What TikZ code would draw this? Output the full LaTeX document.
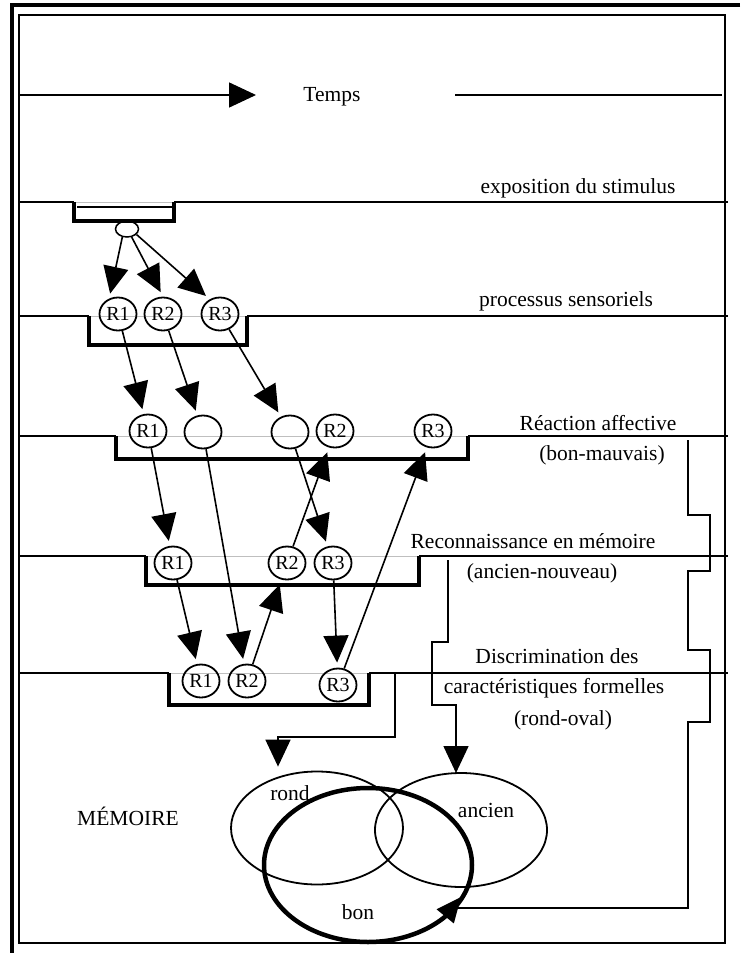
\documentclass[tikz,border=0pt]{standalone}
\usepackage{fontspec}
\setmainfont{Liberation Serif}
\usetikzlibrary{arrows.meta,shapes.geometric}
\begin{document}
\begin{tikzpicture}[x=1pt, y=-1pt, font=\fontsize{21.5}{25}\selectfont, line join=miter, >={Triangle[length=27pt,width=25pt]}]
	\tikzset{r/.style={draw,ellipse,line width=1.8pt,minimum width=37pt,minimum height=33pt,inner sep=0pt,font=\fontsize{20}{22}\selectfont},
		lvl/.style={line width=1.5pt},
		cuve/.style={line width=4pt},
		fl/.style={->,line width=1.6pt,shorten >=5pt},
		mem/.style={draw,ellipse,line width=1.8pt}}
	\useasboundingbox (0,0) rectangle (740,953);
	% cadre
	\draw[line width=2.5pt] (19,15) rectangle (725,943);
	\draw[line width=3.5pt] (740,5) -- (12,5) -- (12,953);
	% temps
	\coordinate (t0) at (19,95); \coordinate (t1) at (256,95);
	\coordinate (t2) at (455,95); \coordinate (t3) at (722,95);
	\node (temps) at (332,97) {Temps};
	\draw[lvl,->] (t0) -- (t1);
	\draw[lvl] (t2) -- (t3);
	% niveaux
	\foreach \y/\a/\b/\c in {202/74/174/221, 316/89/247/345, 436/116/468/459, 556/146/419/585, 673/169/369/705}{
		\draw[gray!50,line width=0.8pt] (\a,\y) -- (\b,\y);
		\draw[lvl] (19,\y) -- (\a,\y) (\b,\y) -- (728,\y);
		\draw[cuve] (\a,\y) -- (\a,\c) -- (\b,\c) -- (\b,\y);
	}
	\draw[line width=1.2pt] (77,207) -- (172,207);
	\path (578,188) node (expo) {exposition du stimulus}
		(566,301) node (sens) {processus sensoriels}
		(598,423) node (aff) {Réaction affective}
		(602,455) node (aff2) {(bon-mauvais)}
		(533,541) node (rec) {Reconnaissance en mémoire}
		(542,573) node (rec2) {(ancien-nouveau)}
		(557,656) node (dis) {Discrimination des}
		(554,688) node (dis2) {caractéristiques formelles}
		(563,720) node (dis3) {(rond-oval)};
	% stimulus et reponses
	\node[draw,ellipse,line width=1.5pt,minimum width=23pt,minimum height=16pt,inner sep=0pt] (s0) at (127,229) {};
	\path (118,314) node[r] (sR1) {R1} (163,314) node[r] (sR2) {R2} (220,314) node[r] (sR3) {R3};
	\path (148,431) node[r] (aR1) {R1} (203,432) node[r] (aV1) {} (290,432) node[r] (aV2) {}
		(335,431) node[r] (aR2) {R2} (433,431) node[r] (aR3) {R3};
	\path (173,563) node[r] (cR1) {R1} (287,563) node[r] (cR2) {R2} (333,563) node[r] (cR3) {R3};
	\path (201,681) node[r] (dR1) {R1} (247,681) node[r] (dR2) {R2} (338,685) node[r] (dR3) {R3};
	\foreach \x/\y in {
		s0.240/sR1.120,s0.300/sR2.north,s0.330/sR3.125,
		sR1/aR1,sR2/aV1,sR3/aV2,
		aR1/cR1,aV2/cR3,cR2/aR2,aV1/dR2,
		cR1/dR1,cR3/dR3,dR2/cR2,dR3/aR3}
	\draw[fl] (\x) -- (\y);
	% memoire
	\node (memo) at (128,816) {MÉMOIRE};
	\node[mem,minimum width=172pt,minimum height=113pt] (rond) at (317,828) {};
	\node[mem,minimum width=172pt,minimum height=114pt] (ancien) at (461,830) {};
	\node[mem,line width=4.5pt,minimum width=208pt,minimum height=154pt] (bon) at (368,865) {};
	\path (290,793) node {rond} (486,810) node {ancien} (358,912) node {bon};
	% liaisons vers la memoire
	\coordinate (k1) at (395,673); \coordinate (k2) at (278,737);
	\draw[fl,shorten >=4pt] (k1) |- (k2) -- (k2 |- rond.north);
	\coordinate (k3) at (448,560);
	\draw[fl,shorten >=0pt] (k3) -- (448,642) -- (432,642) -- (432,705) -- (456,705) -- (456,773);
	\coordinate (k4) at (688,440); \coordinate (k5) at (461,897);
	\draw[fl,shorten >=0pt,-{Triangle[length=25pt,width=22pt]}] (k4) -- (688,515) -- (710,515) -- (710,571) -- (688,571) -- (688,650) -- (710,650) -- (710,722) -- (688,722) -- (688,908) -- (452,908) -- (k5);
\end{tikzpicture}
\end{document}
